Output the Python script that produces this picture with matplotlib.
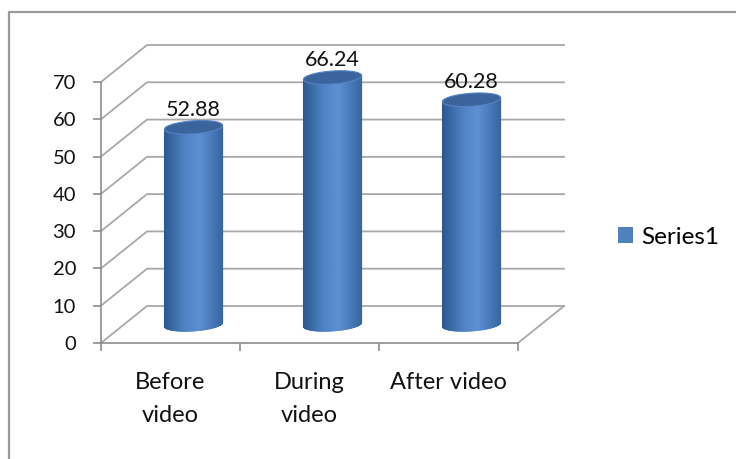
import numpy as np
import matplotlib.pyplot as plt
from matplotlib.collections import PolyCollection
from matplotlib.colors import LinearSegmentedColormap
from matplotlib.lines import Line2D
from matplotlib.patches import Polygon, Patch
from matplotlib.transforms import IdentityTransform

# chart data
categories = ['Before\nvideo', 'During\nvideo', 'After video']
values = [52.88, 66.24, 60.28]
value_labels = ['52.88', '66.24', '60.28']
y_ticks = [0, 10, 20, 30, 40, 50, 60, 70]
series_name = 'Series1'

plt.rcParams['font.family'] = ['Lato', 'DejaVu Sans']

W, H = 736, 459
fig = plt.figure(figsize=(W / 100, H / 100), dpi=100)
ax = fig.add_axes([101 / W, 1 - 343 / H, 417 / W, 261 / H])
ax.set_xlim(-0.5, 2.5)
ax.set_ylim(0, 70)
ax.patch.set_visible(False)

# fake 3d: depth shift of the back wall in pixels
DEPTH = np.array([46.0, 37.0])
grid_c = '#a8a8a8'
axis_c = '#8c8c8c'
text_c = '#111111'
ident = IdentityTransform()


def px(x, y, d=0.0):
    return ax.transData.transform((x, y)) + d * DEPTH


# walls and floor gridlines
for v in y_ticks:
    f = px(-0.5, v, 0)
    a = px(-0.5, v, 1)
    b = px(2.5, v, 1)
    ax.add_line(Line2D([f[0], a[0], b[0]], [f[1], a[1], b[1]], transform=ident,
                       color=grid_c, lw=1.3, clip_on=False, zorder=1))
a = px(2.5, 0, 0)
b = px(2.5, 0, 1)
ax.add_line(Line2D([a[0], b[0]], [a[1], b[1]], transform=ident,
                   color=grid_c, lw=1.3, clip_on=False, zorder=1))

# cylinders
cmap = LinearSegmentedColormap.from_list(
    'cyl', [(0, '#3966a4'), (0.4, '#5c90d3'), (0.65, '#4f82c4'), (1, '#2c5890')])
half_w = 0.21
b_px = 6.5
tilt = np.deg2rad(4)
e1 = np.array([np.cos(tilt), np.sin(tilt)])
e2 = np.array([-np.sin(tilt), np.cos(tilt)])

for i, v in enumerate(values):
    c0 = px(i, 0, 0.5)
    c1 = px(i, v, 0.5)
    a_px = (px(i + half_w, 0)[0] - px(i - half_w, 0)[0]) / 2
    t = np.linspace(np.pi, 2 * np.pi, 90)
    ring = np.outer(np.cos(t), e1 * a_px) + np.outer(np.sin(t), e2 * b_px)
    bottom = c0 + ring
    top = c1 + ring
    polys = [[bottom[k], bottom[k + 1], top[k + 1], top[k]] for k in range(len(t) - 1)]
    s = (1 - np.cos((t[:-1] + t[1:]) / 2)) / 2
    cols = cmap(s)
    pc = PolyCollection(polys, facecolors=cols, edgecolors=cols, linewidths=0.6,
                        transform=ident, zorder=3)
    pc.set_clip_on(False)
    ax.add_collection(pc)

    tt = np.linspace(0, 2 * np.pi, 120)
    cap = c1 + np.outer(np.cos(tt), e1 * a_px) + np.outer(np.sin(tt), e2 * b_px)
    ax.add_patch(Polygon(cap, closed=True, facecolor='#3b649c', edgecolor='#5584c4',
                         lw=0.8, transform=ident, clip_on=False, zorder=4))

    ax.text(c1[0], c1[1] + b_px + 5, value_labels[i], transform=ident,
            ha='center', va='baseline', fontsize=15.5, color=text_c, zorder=5)

# axes styling
for side in ['top', 'right']:
    ax.spines[side].set_visible(False)
for side in ['left', 'bottom']:
    ax.spines[side].set_color(axis_c)
    ax.spines[side].set_linewidth(1.2)

ax.set_yticks(y_ticks)
ax.set_yticklabels([str(v) for v in y_ticks], fontsize=14.5, color=text_c)
ax.tick_params(axis='y', direction='out', length=6, width=1.2, color=axis_c, pad=12)

ax.set_xticks([0, 1, 2])
ax.set_xticklabels(categories, fontsize=17, color=text_c, linespacing=1.72)
ax.set_xticks([-0.5, 0.5, 1.5, 2.5], minor=True)
ax.tick_params(axis='x', which='major', length=0, pad=21)
ax.tick_params(axis='x', which='minor', direction='out', length=6, width=1.2, color=axis_c)

# legend
fig.legend(handles=[Patch(facecolor='#4f81bd')], labels=[series_name],
           loc='center left', bbox_to_anchor=(618 / W, 1 - 237 / H),
           frameon=False, fontsize=17.5, handlelength=0.6, handleheight=0.6,
           handletextpad=0.35, borderpad=0, borderaxespad=0)

# chart frame (cut off at right and bottom)
fig.add_artist(Line2D([8.5 / W, 8.5 / W, 1], [0, 1 - 11.5 / H, 1 - 11.5 / H],
                      color='#9a9a9a', lw=1.6))

fig.savefig('out.png', dpi=100)
